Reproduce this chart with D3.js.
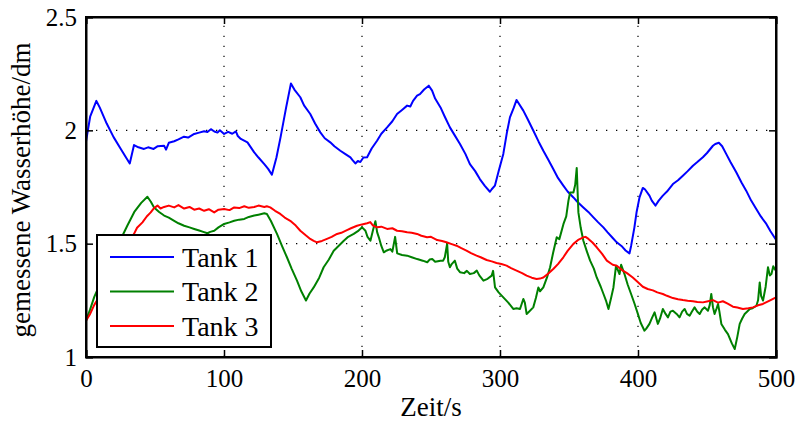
<!DOCTYPE html>
<html><head><meta charset="utf-8">
<script src="https://cdn.jsdelivr.net/npm/d3@7"></script>
<style>
html,body{margin:0;padding:0;background:#fff;}
svg{display:block;}
text{font-family:'Liberation Serif','Times New Roman',serif;fill:#000;}
</style></head>
<body>
<svg id="chart" width="801" height="426"></svg>
<script>
// ---- data ----
const seriesNames = ["Tank 1", "Tank 2", "Tank 3"];
const seriesColors = ["#0000ff", "#008000", "#ff0000"];
const xTicks = [0, 100, 200, 300, 400, 500];
const yTicks = [1, 1.5, 2, 2.5];
const xLabel = "Zeit/s";
const yLabel = "gemessene Wasserhöhe/dm";

const tank1 = [[0,1.95],[3,2.06],[7.5,2.13],[10,2.10],[15,2.03],[20,1.97],[25,1.92],[29,1.88],[31.7,1.854],[34.8,1.935],[38,1.925],[42,1.918],[45,1.925],[49,1.918],[52,1.93],[56.6,1.932],[58,1.915],[60,1.945],[63.9,1.952],[67,1.96],[71,1.972],[74,1.968],[78.4,1.984],[82,1.99],[85.6,1.996],[88,1.993],[90.5,2.005],[93,1.995],[95.3,1.99],[97,2.0],[100.1,1.984],[103,1.993],[106,1.985],[108.6,1.995],[110,1.975],[112.2,1.962],[117,1.947],[121.9,1.903],[125,1.88],[129.2,1.851],[132,1.83],[134.7,1.804],[138,1.88],[141,1.97],[145,2.1],[148.5,2.207],[151,2.18],[155.3,2.146],[158,2.11],[162.5,2.072],[166,2.03],[169.8,1.991],[173,1.965],[177,1.947],[180,1.93],[184.3,1.910],[188,1.895],[191.6,1.881],[193,1.87],[195.2,1.854],[197,1.865],[198.8,1.86],[201,1.88],[203.7,1.881],[207,1.92],[210.9,1.954],[214,1.985],[218.2,2.013],[222,2.04],[225.4,2.072],[229,2.09],[232.7,2.109],[235,2.105],[237,2.13],[239.9,2.153],[242,2.16],[245,2.18],[248.4,2.197],[250.8,2.175],[253,2.14],[256.9,2.101],[260,2.06],[263.7,2.013],[267,1.98],[271,1.94],[275,1.895],[278.2,1.851],[282,1.82],[285.4,1.785],[289,1.755],[292.7,1.729],[294,1.74],[296.3,1.756],[299,1.82],[302.4,1.896],[305,1.99],[307.2,2.057],[310,2.10],[312,2.134],[316.9,2.087],[320,2.05],[324.1,1.999],[328,1.95],[331.4,1.910],[335,1.87],[338.6,1.829],[342,1.79],[345.9,1.756],[349,1.73],[353.2,1.704],[356,1.685],[360.4,1.660],[364,1.64],[367.7,1.616],[371,1.595],[374.9,1.572],[378,1.55],[381.7,1.525],[384.6,1.506],[388,1.49],[391,1.47],[393.8,1.457],[395,1.49],[397.4,1.572],[399,1.64],[401.1,1.704],[403.5,1.746],[405,1.74],[408.3,1.712],[410,1.69],[412.7,1.668],[415,1.69],[418,1.712],[421,1.73],[425.3,1.763],[429,1.78],[432.5,1.80],[436,1.82],[439.8,1.844],[443,1.86],[447,1.881],[450,1.90],[454.3,1.932],[456,1.94],[458.6,1.945],[461,1.93],[463.9,1.896],[467,1.86],[471.2,1.815],[475,1.77],[478.4,1.734],[482,1.69],[485.7,1.653],[489,1.62],[493,1.587],[496,1.555],[500,1.517]];

const tank2 = [[0,1.16],[3,1.21],[6,1.265],[10,1.32],[15,1.39],[20,1.46],[24,1.52],[26.4,1.535],[30,1.58],[35,1.64],[40,1.68],[44.5,1.707],[47,1.685],[49.3,1.66],[53,1.64],[56.6,1.624],[60,1.615],[63.9,1.601],[67,1.59],[71.1,1.579],[75,1.572],[78.4,1.565],[82,1.558],[85,1.552],[88,1.546],[90,1.552],[92.9,1.557],[96,1.572],[100.1,1.587],[104,1.594],[107.4,1.601],[111,1.606],[114.7,1.609],[118,1.618],[121.9,1.624],[125,1.628],[129.2,1.634],[131.1,1.631],[134,1.60],[138.4,1.543],[142,1.49],[145.6,1.44],[149,1.39],[152.9,1.337],[156,1.29],[159.4,1.249],[162,1.28],[165,1.307],[169,1.35],[172.2,1.396],[176,1.43],[179.5,1.469],[183,1.49],[186.8,1.513],[190,1.53],[194,1.543],[197,1.555],[200.1,1.572],[202.5,1.557],[204,1.53],[206.1,1.513],[208,1.56],[209.7,1.599],[211,1.55],[212.2,1.528],[214,1.49],[215.8,1.462],[218,1.47],[220.6,1.476],[222,1.465],[224,1.53],[225.5,1.457],[229,1.45],[232.7,1.447],[236,1.44],[240,1.432],[244,1.425],[247.3,1.418],[249,1.43],[250.9,1.432],[253,1.42],[256.9,1.425],[258.8,1.425],[260,1.44],[261.7,1.50],[262.5,1.42],[263.7,1.396],[265,1.41],[267.3,1.425],[269,1.39],[271,1.374],[274,1.37],[276,1.38],[278.2,1.366],[281,1.37],[283.2,1.381],[285,1.36],[288,1.337],[291,1.345],[294,1.359],[295,1.38],[296.4,1.307],[299,1.285],[302.4,1.263],[306,1.24],[309.6,1.212],[312,1.215],[314.5,1.212],[316.9,1.256],[318,1.24],[319.3,1.190],[321,1.20],[324.1,1.219],[326,1.26],[327.8,1.307],[329,1.29],[331.4,1.307],[334,1.35],[336.3,1.396],[338.5,1.46],[341.1,1.528],[343,1.52],[346,1.587],[348,1.62],[349.6,1.69],[350.8,1.726],[353.2,1.726],[354.5,1.76],[355.6,1.834],[356.8,1.638],[358.5,1.57],[360.4,1.513],[363,1.465],[365.3,1.425],[368,1.39],[370.1,1.351],[373,1.31],[375,1.278],[377,1.245],[378.6,1.212],[380.5,1.26],[382.2,1.307],[384.1,1.403],[386.6,1.366],[387.8,1.407],[390.2,1.366],[392.5,1.32],[395,1.278],[397.5,1.235],[399.9,1.19],[402,1.15],[404.7,1.116],[406,1.125],[408.3,1.146],[410,1.17],[412,1.197],[414.4,1.146],[416,1.17],[418,1.212],[420,1.19],[421.7,1.175],[423.5,1.20],[425.3,1.204],[428,1.19],[430.1,1.175],[432,1.20],[433.8,1.212],[435.5,1.19],[437.4,1.182],[439,1.20],[441,1.219],[443,1.20],[444.7,1.19],[446.5,1.21],[448.3,1.219],[450.7,1.204],[452,1.23],[453.1,1.278],[454.3,1.22],[455.5,1.19],[457,1.215],[458,1.234],[459,1.20],[460.4,1.146],[463,1.12],[465.2,1.101],[468,1.06],[470.1,1.035],[472,1.09],[473.7,1.146],[475.5,1.17],[477.3,1.190],[479,1.20],[481,1.212],[483,1.215],[485.8,1.226],[487,1.25],[488.2,1.329],[489.2,1.27],[490.6,1.249],[492.5,1.31],[494.2,1.396],[495.5,1.36],[496.7,1.366],[498,1.40],[499.1,1.388],[500,1.38]];

const tank3 = [[0,1.16],[3,1.19],[6,1.23],[10,1.27],[15,1.33],[20,1.39],[25,1.45],[30,1.50],[34.8,1.543],[37,1.57],[40.9,1.594],[44,1.62],[46.9,1.638],[49,1.655],[51.8,1.668],[54,1.655],[56.6,1.662],[60,1.668],[63.9,1.66],[67,1.67],[71.1,1.655],[75,1.662],[78.4,1.65],[82,1.655],[85.6,1.645],[89,1.652],[92.9,1.638],[96,1.65],[100.1,1.653],[104,1.648],[107.4,1.66],[111,1.657],[114.7,1.665],[118,1.658],[121.9,1.662],[125,1.668],[129.2,1.662],[131,1.665],[133.5,1.66],[137,1.645],[140.8,1.631],[144,1.615],[148,1.601],[152,1.58],[155.3,1.557],[159,1.538],[162.5,1.521],[165,1.512],[167.4,1.506],[171,1.512],[174.6,1.521],[178,1.53],[181.9,1.543],[185,1.548],[189.1,1.56],[192,1.568],[196.4,1.579],[200,1.585],[203.7,1.59],[206,1.595],[208,1.58],[210.9,1.572],[214,1.575],[218.2,1.565],[222,1.568],[225.4,1.557],[229,1.555],[232.7,1.55],[236,1.548],[239.9,1.543],[243,1.535],[247.2,1.528],[250,1.53],[254.5,1.516],[258,1.512],[261.2,1.506],[265,1.498],[268.5,1.491],[272,1.48],[275.7,1.469],[279,1.458],[283,1.447],[286,1.44],[290.3,1.428],[294,1.422],[297.5,1.415],[301,1.41],[304.8,1.403],[308,1.392],[312,1.381],[316,1.37],[319.3,1.359],[323,1.35],[326.5,1.344],[329,1.346],[331.4,1.351],[335,1.368],[338.6,1.388],[342,1.41],[345.9,1.44],[349,1.468],[353.2,1.499],[357,1.518],[360.4,1.528],[362,1.53],[364.1,1.521],[367,1.505],[370.1,1.484],[374,1.455],[377.4,1.425],[381.7,1.407],[384.6,1.403],[389,1.381],[392,1.37],[396.2,1.351],[400,1.33],[403.5,1.31],[407,1.30],[410.8,1.294],[414,1.285],[418,1.278],[421,1.27],[425.3,1.26],[429,1.255],[432.5,1.251],[436,1.248],[439.8,1.246],[443,1.243],[447,1.241],[450,1.245],[454.3,1.251],[458,1.24],[461.5,1.246],[465,1.235],[468.8,1.222],[472,1.218],[476,1.212],[480,1.215],[483.3,1.219],[487,1.228],[490.5,1.234],[495,1.248],[500,1.263]];

const allSeries = [tank1, tank2, tank3];

// ---- layout ----
const svg = d3.select("#chart");
const L = 86, R = 776, T = 17, B = 357;
const x = d3.scaleLinear().domain([0, 500]).range([L, R]);
const y = d3.scaleLinear().domain([1, 2.5]).range([B, T]);

// grid (dotted)
const grid = svg.append("g");
grid.selectAll("line.gx").data(xTicks.slice(1, -1)).enter().append("line")
  .attr("x1", d => x(d)).attr("x2", d => x(d)).attr("y1", B).attr("y2", T)
  .attr("stroke", "#000").attr("stroke-width", 1.2).attr("stroke-dasharray", "1.3,8.7");
grid.selectAll("line.gy").data(yTicks.slice(1, -1)).enter().append("line")
  .attr("x1", L).attr("x2", R).attr("y1", d => y(d)).attr("y2", d => y(d))
  .attr("stroke", "#000").attr("stroke-width", 1.2).attr("stroke-dasharray", "1.3,8.7");

// lines
const line = d3.line().x(d => x(d[0])).y(d => y(d[1]));
const plot = svg.append("g");
plot.append("clipPath").attr("id", "clip").append("rect")
  .attr("x", L).attr("y", T).attr("width", R - L).attr("height", B - T);
allSeries.forEach((s, i) => {
  plot.append("path").datum(s).attr("d", line)
    .attr("fill", "none").attr("stroke", seriesColors[i])
    .attr("stroke-width", 2).attr("stroke-linejoin", "round")
    .attr("clip-path", "url(#clip)");
});

// axes (MATLAB-style box with inward ticks)
const fs = 25;
const axB = svg.append("g").attr("transform", `translate(0,${B})`)
  .call(d3.axisBottom(x).tickValues(xTicks).tickSize(-7).tickPadding(12).tickFormat(d3.format("d")));
const axT = svg.append("g").attr("transform", `translate(0,${T})`)
  .call(d3.axisTop(x).tickValues(xTicks).tickSize(-7).tickFormat(""));
const axL = svg.append("g").attr("transform", `translate(${L},0)`)
  .call(d3.axisLeft(y).tickValues(yTicks).tickSize(-7).tickPadding(9).tickFormat(d => d === 1 || d === 2 ? String(d) : d3.format(".1f")(d)));
const axR = svg.append("g").attr("transform", `translate(${R},0)`)
  .call(d3.axisRight(y).tickValues(yTicks).tickSize(-7).tickFormat(""));
[axB, axT, axL, axR].forEach(g => {
  g.select(".domain").attr("stroke", "#000").attr("stroke-width", 2);
  g.selectAll(".tick line").attr("stroke", "#000").attr("stroke-width", 1.5);
  g.selectAll("text").attr("font-size", fs).attr("font-family", "'Liberation Serif',serif").attr("fill", "#000");
});
// square the box corners
svg.append("rect").attr("x", L).attr("y", T).attr("width", R - L).attr("height", B - T)
  .attr("fill", "none").attr("stroke", "#000").attr("stroke-width", 2);

// axis titles
svg.append("text").attr("x", 431).attr("y", 416).attr("text-anchor", "middle")
  .attr("font-size", 27).text(xLabel);
svg.append("text").attr("transform", `translate(30,${(T + B) / 2 + 3}) rotate(-90)`)
  .attr("text-anchor", "middle").attr("font-size", 27).text(yLabel);

// legend
const lg = svg.append("g");
lg.append("rect").attr("x", 97).attr("y", 235).attr("width", 174).attr("height", 112)
  .attr("fill", "#fff").attr("stroke", "#000").attr("stroke-width", 2);
seriesNames.forEach((n, i) => {
  const cy = 257 + i * 34.5;
  lg.append("line").attr("x1", 110).attr("x2", 174).attr("y1", cy).attr("y2", cy)
    .attr("stroke", seriesColors[i]).attr("stroke-width", 2);
  lg.append("text").attr("x", 182).attr("y", cy).attr("dy", "0.35em")
    .attr("font-size", 28).text(n);
});
</script>
</body></html>
